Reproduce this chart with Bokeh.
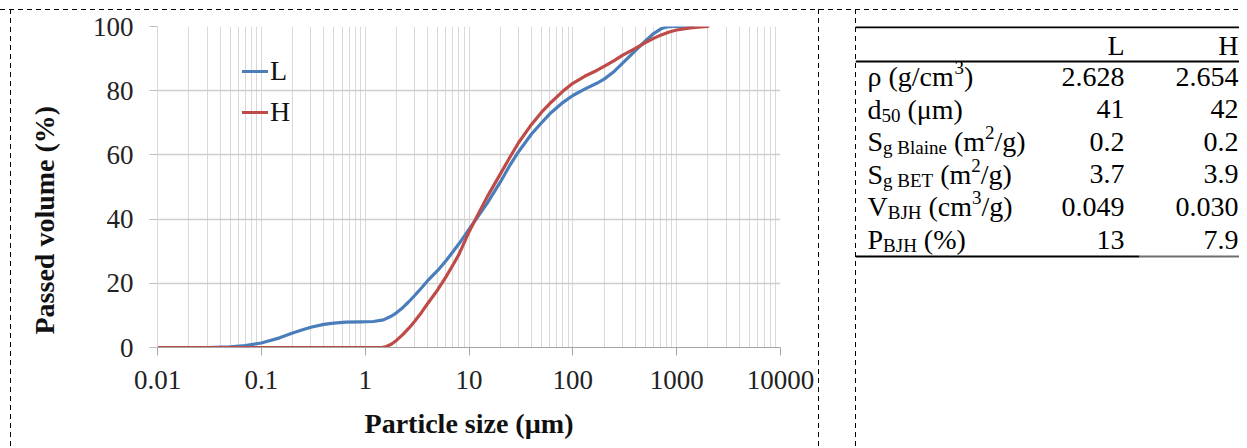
from bokeh.plotting import figure
from bokeh.models import (FixedTicker, CustomJSTickFormatter, Legend, Title, Range1d, Spacer)
from bokeh.layouts import row
from bokeh.core.properties import value
from bokeh.embed import file_html
from bokeh.resources import INLINE

# ---------------- data ----------------
L_size = [0.01, 0.03, 0.05, 0.07, 0.1, 0.15, 0.2, 0.25, 0.3, 0.4, 0.5, 0.65, 0.9, 1.2, 1.5, 1.8,
          2.0, 2.3, 2.6, 3.0, 3.5, 4.0, 5.0, 6.0, 7.0, 8.0, 10, 12, 15, 20, 25, 30, 40, 50, 60,
          80, 100, 130, 170, 200, 250, 300, 400, 500, 600, 700, 800, 900, 1400]
L_passed = [0, 0, 0.2, 0.6, 1.4, 3.0, 4.5, 5.5, 6.3, 7.2, 7.6, 7.9, 8.0, 8.1, 8.6, 9.8,
            10.8, 12.4, 14.1, 16.2, 18.6, 20.8, 24.0, 27.0, 29.8, 32.3, 36.8, 40.5, 45.0, 51.5, 57.0, 61.0, 66.5, 70.0, 72.8,
            76.3, 78.5, 80.5, 82.3, 83.6, 86.0, 88.5, 92.5, 95.5, 97.8, 99.2, 99.9, 100, 100]

H_size = [0.01, 1.0, 1.45, 1.6, 1.8, 2.0, 2.3, 2.65, 3.0, 3.5, 4.0, 5.0, 6.0, 7.0, 8.0, 10, 12,
          15, 20, 25, 30, 40, 50, 60, 80, 100, 130, 170, 200, 250, 300, 400, 500, 600, 700, 850,
          1000, 1300, 1600, 2000]
H_passed = [0, 0, 0, 0.3, 1.1, 2.2, 4.0, 6.1, 8.2, 11.0, 13.7, 18.0, 22.0, 25.7, 29.0, 36.0, 41.0,
            47.0, 54.0, 59.5, 63.8, 69.5, 73.3, 76.0, 79.8, 82.3, 84.5, 86.3, 87.6, 89.4, 91.0, 93.2, 95.0, 96.3, 97.3, 98.3,
            98.9, 99.5, 99.8, 100]

x_ticks = [0.01, 0.1, 1, 10, 100, 1000, 10000]
x_tick_labels = ["0.01", "0.1", "1", "10", "100", "1000", "10000"]
x_minor_ticks = [k * t for t in [0.01, 0.1, 1, 10, 100, 1000] for k in range(2, 10)]
y_ticks = [0, 20, 40, 60, 80, 100]

table_columns = ["L", "H"]
# label pieces: (text, kind) kind: n = normal, sub = subscript, sup = superscript
table_labels = [
    [("ρ (g/cm", "n"), ("3", "sup"), (")", "n")],
    [("d", "n"), ("50", "sub"), (" (μm)", "n")],
    [("S", "n"), ("g Blaine", "sub"), (" (m", "n"), ("2", "sup"), ("/g)", "n")],
    [("S", "n"), ("g BET", "sub"), (" (m", "n"), ("2", "sup"), ("/g)", "n")],
    [("V", "n"), ("BJH", "sub"), (" (cm", "n"), ("3", "sup"), ("/g)", "n")],
    [("P", "n"), ("BJH", "sub"), (" (%)", "n")],
]
table_L = ["2.628", "41", "0.2", "3.7", "0.049", "13"]
table_H = ["2.654", "42", "0.2", "3.9", "0.030", "7.9"]

# ---------------- styles ----------------
SERIF = "Liberation Serif"
BLUE = "#4a7ebb"
RED = "#be4b48"
GRID = "#d9d9d9"


def dashed_bg(top_y, xs=()):
    imgs = ["linear-gradient(#ffffff, #ffffff)"]
    pos = ["0px 0px"]
    size = [f"100% {top_y}px"]
    rep = ["no-repeat"]
    imgs.append("linear-gradient(to right, #000 5px, rgba(0,0,0,0) 5px)")
    pos.append(f"0px {top_y}px"); size.append("9px 1px"); rep.append("repeat-x")
    for x in xs:
        imgs.append("linear-gradient(to bottom, #000 5px, rgba(0,0,0,0) 5px)")
        pos.append(f"{x} {top_y}px"); size.append("1px 9px"); rep.append("repeat-y")
    return {"background-image": ", ".join(imgs), "background-position": ", ".join(pos),
            "background-size": ", ".join(size), "background-repeat": ", ".join(rep)}


H_FIG = 446
MB_TOP, FRAME_H = 26, 321
MB_BOT = H_FIG - MB_TOP - FRAME_H

# ---------------- chart ----------------
p = figure(width=819, height=H_FIG, x_axis_type="log", output_backend="svg",
           toolbar_location=None, x_range=Range1d(0.01, 10000), y_range=Range1d(0, 100),
           min_border_left=157, min_border_right=39, min_border_top=MB_TOP, min_border_bottom=MB_BOT,
           styles=dashed_bg(9, ["10px", "100%"]))
p.outline_line_color = None
p.border_fill_color = None
p.background_fill_color = "#ffffff"

rL = p.line(L_size, L_passed, line_color=BLUE, line_width=3.2, line_join="round", line_cap="round")
rH = p.line(H_size, H_passed, line_color=RED, line_width=3.2, line_join="round", line_cap="round")

p.xaxis.ticker = FixedTicker(ticks=x_ticks, minor_ticks=x_minor_ticks)
p.xaxis.formatter = CustomJSTickFormatter(args=dict(vals=x_ticks, labs=x_tick_labels), code="""
    for (let i = 0; i < vals.length; i++) {
        if (Math.abs(Math.log10(tick) - Math.log10(vals[i])) < 1e-6) return labs[i];
    }
    return "";
""")
p.yaxis.ticker = FixedTicker(ticks=y_ticks)

p.xgrid.grid_line_color = GRID
p.xgrid.minor_grid_line_color = GRID
p.ygrid.grid_line_color = "#cfcfcf"
p.xgrid.grid_line_width = 1
p.ygrid.grid_line_width = 1.3

for ax in (p.xaxis, p.yaxis):
    ax.major_label_text_font = SERIF
    ax.major_label_text_font_size = "27px"
    ax.major_label_text_color = "#222222"
    ax.major_tick_out = 8
    ax.major_tick_in = 0
    ax.minor_tick_out = 0
    ax.minor_tick_in = 0
    ax.major_tick_line_color = "#a6a6a6"
    ax.axis_line_color = "#a6a6a6"
p.yaxis.axis_line_color = GRID
p.yaxis.major_tick_line_color = "#bfbfbf"
p.yaxis.major_label_standoff = 16
p.xaxis.major_label_standoff = 15

# blank y axis label used only as extra spacing before the rotated title
p.yaxis.axis_label = " "
p.yaxis.axis_label_text_font_size = "2px"
p.yaxis.axis_label_standoff = 16

p.xaxis.axis_label = "Particle size (µm)"
p.xaxis.axis_label_text_font = SERIF
p.xaxis.axis_label_text_font_size = "28px"
p.xaxis.axis_label_text_font_style = "bold"
p.xaxis.axis_label_text_color = "#111111"
p.xaxis.axis_label_standoff = 16

ytitle = Title(text="Passed volume (%)", align="left", offset=13, vertical_align="top", standoff=13,
               text_font=SERIF, text_font_size="28px", text_font_style="bold",
               text_color="#111111")
p.add_layout(ytitle, "left")

legend = Legend(items=[("L", [rL]), ("H", [rH])], location=(85, 219),
                label_text_font=SERIF, label_text_font_size="28px", label_text_color="#111111",
                glyph_width=26, glyph_height=20, label_standoff=2, padding=0, margin=0,
                spacing=9, border_line_alpha=0, background_fill_alpha=0)
p.add_layout(legend)

# ---------------- gap ----------------
gap = Spacer(width=36, height=H_FIG, styles=dashed_bg(9))

# ---------------- table ----------------
T_LEFT = 856
TW = 384
t = figure(width=TW, height=H_FIG, output_backend="svg", toolbar_location=None,
           x_range=Range1d(T_LEFT, T_LEFT + TW), y_range=Range1d(1 + MB_TOP + FRAME_H, 1 + MB_TOP),
           min_border_left=0, min_border_right=0, min_border_top=MB_TOP, min_border_bottom=MB_BOT,
           styles=dashed_bg(9, ["0px"]))
t.axis.visible = False
t.grid.visible = False
t.outline_line_color = None
t.border_fill_color = None
t.background_fill_color = None

# table rules (page coordinates)
RIGHT = T_LEFT + TW
t.segment(x0=[T_LEFT, T_LEFT, T_LEFT], y0=[27.6, 62, 257], x1=[RIGHT, RIGHT, 1140], y1=[27.6, 62, 257],
          line_color="#000000", line_width=2.2)
t.segment(x0=[1140], y0=[257], x1=[RIGHT], y1=[257], line_color="#6e6e6e", line_width=2.2)

FS, SFS = 28, 19
W = {' ': 250, '(': 333, ')': 333, '/': 278, '%': 833, '.': 250, 'B': 667, 'E': 611, 'H': 722,
     'J': 389, 'P': 556, 'S': 556, 'T': 611, 'V': 722, 'L': 611, 'a': 444, 'c': 444, 'd': 500,
     'e': 444, 'g': 500, 'i': 278, 'l': 278, 'm': 778, 'n': 500, 'ρ': 520, 'μ': 560}


def tw(s, size):
    return sum(W.get(ch, 500) for ch in s) * size / 1000.0


col_right = [1125, 1239]
header_mid = 46
row_mid = [77 + 32.6 * i for i in range(len(table_labels))]

t.text(x=col_right, y=[header_mid] * 2, text=table_columns, text_align="right",
       text_baseline="middle", text_font=value(SERIF), text_font_size=f"{FS}px", text_color="#000000")

nx, ny, nt = [], [], []
sx, sy, st = [], [], []
for i, pieces in enumerate(table_labels):
    x = 868.0
    for txt, kind in pieces:
        size = FS if kind == "n" else SFS
        lead = len(txt) - len(txt.lstrip(" "))
        x += tw(" " * lead, size)
        txt = txt.lstrip(" ")
        if kind == "n":
            nx.append(x); ny.append(row_mid[i]); nt.append(txt)
        else:
            sx.append(x); st.append(txt)
            sy.append(row_mid[i] + (6 if kind == "sub" else -9))
        x += tw(txt, size)
t.text(x=nx, y=ny, text=nt, text_align="left", text_baseline="middle",
       text_font=value(SERIF), text_font_size=f"{FS}px", text_color="#000000")
t.text(x=sx, y=sy, text=st, text_align="left", text_baseline="middle",
       text_font=value(SERIF), text_font_size=f"{SFS}px", text_color="#000000")

t.text(x=[col_right[0]] * len(table_L), y=row_mid, text=table_L, text_align="right",
       text_baseline="middle", text_font=value(SERIF), text_font_size=f"{FS}px", text_color="#000000")
t.text(x=[col_right[1]] * len(table_H), y=row_mid, text=table_H, text_align="right",
       text_baseline="middle", text_font=value(SERIF), text_font_size=f"{FS}px", text_color="#000000")

layout = row(p, gap, t, spacing=0)
open("out.html", "w").write(file_html(layout, INLINE))
